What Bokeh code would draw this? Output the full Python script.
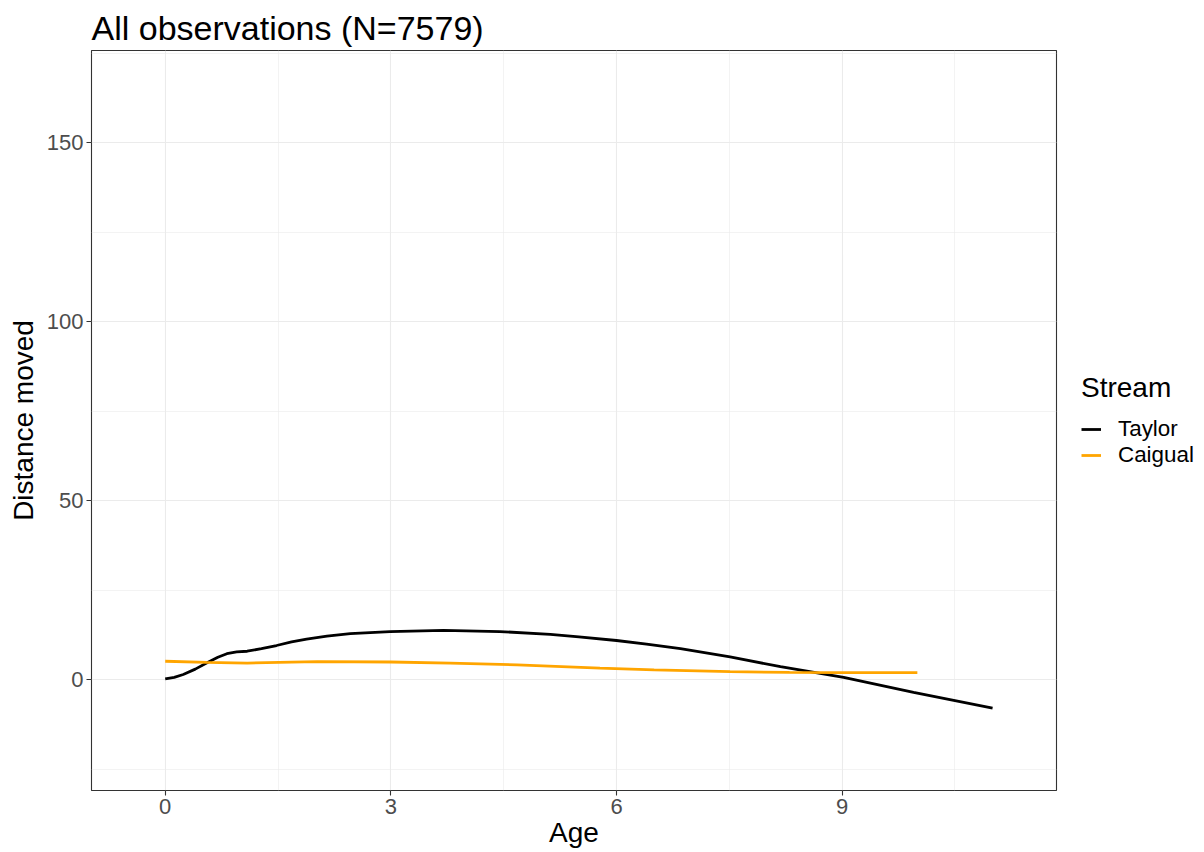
from bokeh.plotting import figure
from bokeh.layouts import row
from bokeh.models import Range1d, FixedTicker, Legend, LegendItem
from bokeh.embed import file_html
from bokeh.resources import INLINE

# Smoothed distance moved by age, per stream
taylor_age = [0, 0.12, 0.24, 0.4, 0.55, 0.7, 0.82, 0.95, 1.09, 1.28, 1.48, 1.68,
              1.88, 2.15, 2.46, 2.99, 3.70, 4.45, 5.12, 5.5, 6.0, 6.4, 6.85,
              7.51, 8.18, 9.02, 9.95, 11.0]
taylor_dist = [0.2, 0.6, 1.4, 2.9, 4.6, 6.2, 7.2, 7.7, 7.9, 8.6, 9.5, 10.5,
               11.3, 12.1, 12.8, 13.4, 13.7, 13.4, 12.6, 11.9, 10.9, 9.9, 8.6,
               6.3, 3.6, 0.6, -3.6, -8.0]

caigual_age = [0, 0.55, 1.09, 2.02, 3.0, 3.79, 4.68, 5.78, 6.5, 7.51, 8.3, 9.02, 10.0]
caigual_dist = [5.1, 4.8, 4.6, 5.0, 4.9, 4.6, 4.1, 3.2, 2.7, 2.2, 2.0, 1.9, 1.9]

streams = ["Taylor", "Caigual"]
stream_colors = ["black", "#FFA500"]

x_major = [0, 3, 6, 9]
x_minor = [1.5, 4.5, 7.5, 10.5]
y_major = [0, 50, 100, 150]
y_minor = [-25, 25, 75, 125, 175]

FONT = "Liberation Sans"

p = figure(width=1058, height=852, output_backend="svg", toolbar_location=None,
           x_range=Range1d(-0.98, 11.85), y_range=Range1d(-31.0, 175.7),
           min_border_left=91, min_border_right=2, min_border_top=50,
           min_border_bottom=62)

p.background_fill_color = "white"
p.border_fill_color = "white"
p.outline_line_color = "#333333"
p.outline_line_width = 1.1

p.title.text = "All observations (N=7579)"
p.title.text_font = FONT
p.title.text_font_size = "34px"
p.title.text_font_style = "normal"
p.title.text_color = "black"
p.title.align = "left"
p.title.standoff = 7

p.xaxis.ticker = FixedTicker(ticks=x_major, minor_ticks=x_minor)
p.yaxis.ticker = FixedTicker(ticks=y_major, minor_ticks=y_minor)
p.xaxis.axis_label = "Age"
p.yaxis.axis_label = "Distance moved"

for ax in (p.xaxis[0], p.yaxis[0]):
    ax.axis_line_color = None
    ax.major_tick_line_color = "#333333"
    ax.major_tick_line_width = 1.1
    ax.major_tick_out = 5
    ax.major_tick_in = 0
    ax.minor_tick_line_color = None
    ax.major_label_text_color = "#4D4D4D"
    ax.major_label_text_font = FONT
    ax.major_label_text_font_size = "22px"
    ax.major_label_standoff = 3
    ax.axis_label_text_font = FONT
    ax.axis_label_text_font_size = "28px"
    ax.axis_label_text_font_style = "normal"
    ax.axis_label_text_color = "black"
p.xaxis[0].axis_label_standoff = 0
p.yaxis[0].axis_label_standoff = 5

for g in (p.xgrid[0], p.ygrid[0]):
    g.grid_line_color = "#EBEBEB"
    g.grid_line_width = 1.1
    g.minor_grid_line_color = "#EBEBEB"
    g.minor_grid_line_width = 0.6

p.line(taylor_age, taylor_dist, line_color=stream_colors[0], line_width=2.8)
p.line(caigual_age, caigual_dist, line_color=stream_colors[1], line_width=2.8)

# Legend panel to the right of the plot; key lines sit outside its visible range
lg = figure(width=146, height=852, output_backend="svg", toolbar_location=None,
            x_axis_type=None, y_axis_type=None, min_border=0,
            x_range=Range1d(0, 1), y_range=Range1d(0, 1))
lg.outline_line_color = None
lg.grid.visible = False
keys = [lg.line([5, 6], [5, 5], line_color=c, line_width=2.8) for c in stream_colors]

legend = Legend(items=[LegendItem(label=s, renderers=[k]) for s, k in zip(streams, keys)],
                location=(23, 322), title="Stream",
                title_text_font=FONT, title_text_font_size="28px",
                title_text_font_style="normal", title_text_color="black",
                title_standoff=12,
                label_text_font=FONT, label_text_font_size="22.4px",
                label_text_color="black",
                label_standoff=17, glyph_width=20, glyph_height=22,
                label_height=22, spacing=0, padding=0, margin=0,
                border_line_color=None, background_fill_alpha=0)
lg.add_layout(legend)

layout = row(p, lg, spacing=0)
open("out.html", "w").write(file_html(layout, INLINE))
